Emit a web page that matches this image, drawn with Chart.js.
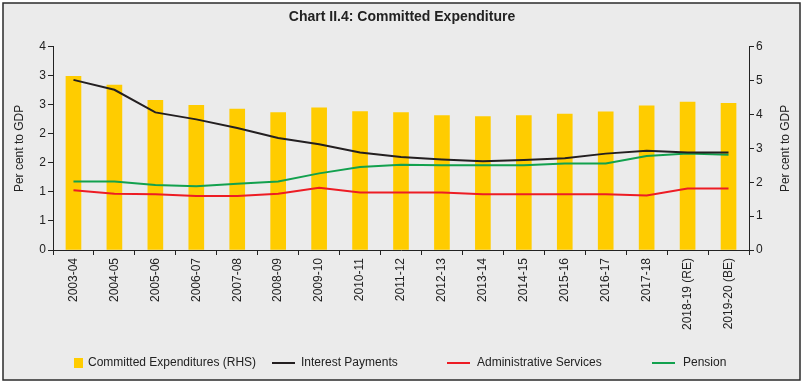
<!DOCTYPE html>
<html>
<head>
<meta charset="utf-8">
<script src="https://cdn.jsdelivr.net/npm/chart.js@4"></script>
<style>
  html, body { margin: 0; padding: 0; background: #ffffff; }
  #wrap { width: 804px; height: 383px; }
</style>
</head>
<body>
<div id="wrap"><canvas id="c" width="804" height="383"></canvas></div>
<script>
const titleText = 'Chart II.4: Committed Expenditure';
const axisTitle = 'Per cent to GDP';
const categories = ['2003-04','2004-05','2005-06','2006-07','2007-08','2008-09','2009-10','2010-11','2011-12','2012-13','2013-14','2014-15','2015-16','2016-17','2017-18','2018-19 (RE)','2019-20 (BE)'];
const committedRHS = [5.13,4.87,4.42,4.27,4.16,4.06,4.20,4.09,4.06,3.97,3.94,3.97,4.01,4.08,4.26,4.37,4.33];
const interestPayments = [2.93,2.76,2.37,2.25,2.10,1.93,1.82,1.68,1.60,1.56,1.53,1.55,1.58,1.66,1.71,1.68,1.68];
const adminServices = [1.03,0.97,0.96,0.93,0.93,0.97,1.07,0.99,0.99,0.99,0.96,0.96,0.96,0.96,0.94,1.06,1.06];
const pension = [1.18,1.18,1.12,1.10,1.14,1.18,1.32,1.43,1.47,1.46,1.46,1.46,1.49,1.49,1.62,1.66,1.64];
const leftTickLabels = ['0','1','1','2','2','3','3','4'];
const rightTickLabels = ['0','1','2','3','4','5','6'];
const seriesLabels = ['Committed Expenditures (RHS)','Interest Payments','Administrative Services','Pension'];

const FONT = '"Liberation Sans", Arial, Helvetica, sans-serif';
const BAR = '#ffcc00', BLACK = '#231f20', RED = '#ed1c24', GREEN = '#12a14e';

const framePlugin = {
  id: 'frame',
  beforeDraw(chart) {
    const ctx = chart.ctx;
    ctx.save();
    ctx.fillStyle = '#ffffff';
    ctx.fillRect(0, 0, chart.width, chart.height);
    ctx.fillStyle = '#ebebeb';
    ctx.fillRect(3, 3, 797, 377);
    ctx.strokeStyle = '#2b2b2b';
    ctx.lineWidth = 1.5;
    ctx.strokeRect(3, 3, 797, 377);
    ctx.restore();
  },
  afterDraw(chart) {
    const ctx = chart.ctx;
    const area = chart.chartArea;
    ctx.save();
    ctx.fillStyle = '#222222';
    ctx.font = '12px ' + FONT;
    ctx.textAlign = 'center';
    ctx.textBaseline = 'middle';
    const cy = (area.top + area.bottom) / 2;
    [20, 786].forEach(x => {
      ctx.save();
      ctx.translate(x, cy);
      ctx.rotate(-Math.PI / 2);
      ctx.fillText(axisTitle, 0, 0);
      ctx.restore();
    });
    // legend
    const y = 363;
    ctx.textAlign = 'left';
    ctx.fillStyle = BAR;
    ctx.fillRect(74, y - 5, 9, 10);
    ctx.fillStyle = '#222222';
    ctx.fillText(seriesLabels[0], 88, y);
    const items = [[272, 301, BLACK, seriesLabels[1]], [447, 477, RED, seriesLabels[2]], [652, 683, GREEN, seriesLabels[3]]];
    items.forEach(([lx, tx, col, label]) => {
      ctx.strokeStyle = col;
      ctx.lineWidth = 2;
      ctx.beginPath();
      ctx.moveTo(lx, y);
      ctx.lineTo(lx + 23, y);
      ctx.stroke();
      ctx.fillStyle = '#222222';
      ctx.fillText(label, tx, y);
    });
    ctx.restore();
  }
};

const lineDs = (label, data, color) => ({
  type: 'line', label, data, yAxisID: 'yL', borderColor: color, backgroundColor: color,
  borderWidth: 2, pointRadius: 0, tension: 0, order: 0
});

new Chart(document.getElementById('c'), {
  type: 'bar',
  data: {
    labels: categories,
    datasets: [
      { type: 'bar', label: seriesLabels[0], data: committedRHS, yAxisID: 'yR', backgroundColor: BAR, barThickness: 15, order: 1 },
      lineDs(seriesLabels[1], interestPayments, BLACK),
      lineDs(seriesLabels[2], adminServices, RED),
      lineDs(seriesLabels[3], pension, GREEN)
    ]
  },
  options: {
    responsive: false,
    animation: false,
    devicePixelRatio: 1,
    layout: { padding: { left: 0, right: 0, top: 0, bottom: 0 } },
    plugins: {
      legend: { display: false },
      tooltip: { enabled: false },
      title: {
        display: true, text: titleText, color: '#222222',
        font: { family: FONT, size: 14, weight: 'bold' },
        padding: { top: 9, bottom: 21 }
      }
    },
    scales: {
      x: {
        offset: true,
        grid: { display: true, drawOnChartArea: false, offset: true, tickLength: 5, color: '#222222' },
        border: { display: true, color: '#222222', width: 1 },
        ticks: { color: '#222222', font: { family: FONT, size: 12 }, minRotation: 90, maxRotation: 90, padding: 3, autoSkip: false },
        afterFit(s) { s.height = 133; }
      },
      yL: {
        position: 'left', min: 0, max: 3.5,
        grid: { drawOnChartArea: false, tickLength: 5, color: '#222222' },
        border: { display: true, color: '#222222', width: 1 },
        ticks: { stepSize: 0.5, color: '#222222', font: { family: FONT, size: 12 }, padding: 2,
          callback: (v, i) => leftTickLabels[i] },
        afterFit(s) { s.width = 53; }
      },
      yR: {
        position: 'right', min: 0, max: 6,
        grid: { drawOnChartArea: false, tickLength: 5, color: '#222222' },
        border: { display: true, color: '#222222', width: 1 },
        ticks: { stepSize: 1, color: '#222222', font: { family: FONT, size: 12 }, padding: 2,
          callback: (v, i) => rightTickLabels[i] },
        afterFit(s) { s.width = 55; }
      }
    }
  },
  plugins: [framePlugin]
});
</script>
</body>
</html>
